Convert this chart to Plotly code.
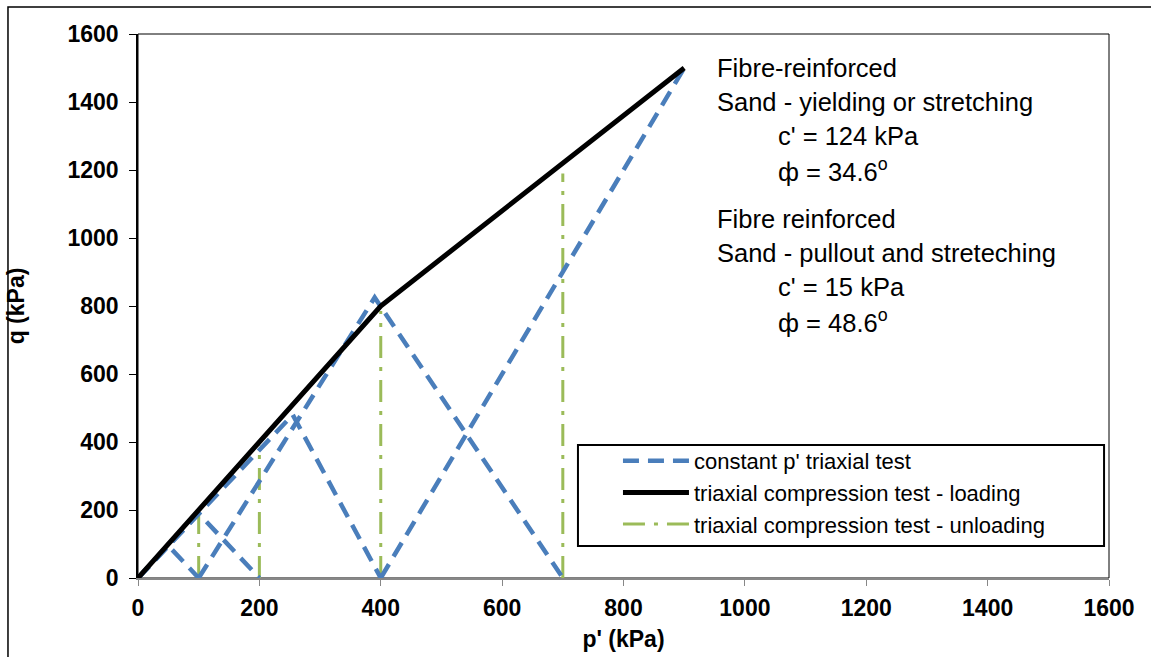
import plotly.graph_objects as go

# ---- data ----
# constant p' triaxial test (blue dashed): each test as p' / q polyline, separated by None
blue_p = [0, 50, 100, None, 0, 100, 200, None, 0, 255, 400, None, 100, 390, 700, None, 400, 900]
blue_q = [0, 95, 0, None, 0, 190, 0, None, 0, 480, 0, None, 0, 825, 0, None, 0, 1500]

# triaxial compression test - loading (black solid)
load_p = [0, 400, 900]
load_q = [0, 800, 1500]

# triaxial compression test - unloading (green dash-dot verticals)
unload_p = [100, 100, None, 200, 200, None, 400, 400, None, 700, 700]
unload_q = [0, 185, None, 0, 390, None, 0, 785, None, 0, 1190]

x_ticks = [0, 200, 400, 600, 800, 1000, 1200, 1400, 1600]
y_ticks = [0, 200, 400, 600, 800, 1000, 1200, 1400, 1600]

names = ["constant p' triaxial test",
         "triaxial compression test - loading",
         "triaxial compression test - unloading"]

note_lines = [
    ("Fibre-reinforced", 0, 1500),
    ("Sand - yielding or stretching", 0, 1400),
    ("c' = 124 kPa", 1, 1300),
    ("ф = 34.6<sup>o</sup>", 1, 1200),
    ("Fibre reinforced", 0, 1057),
    ("Sand - pullout and streteching", 0, 957),
    ("c' = 15 kPa", 1, 857),
    ("ф = 48.6<sup>o</sup>", 1, 757),
]
note_x = [951, 1052]

BLUE = "#4A7EBB"
GREEN = "#9BBB59"
FONT = "Arial, Liberation Sans, sans-serif"

fig = go.Figure()
fig.add_trace(go.Scatter(x=unload_p, y=unload_q, mode="lines", name=names[2],
                         line=dict(color=GREEN, width=3, dash="22px,9px,4px,9px"),
                         legendrank=3, connectgaps=False))
fig.add_trace(go.Scatter(x=blue_p, y=blue_q, mode="lines", name=names[0],
                         line=dict(color=BLUE, width=4.5, dash="16px,9px"),
                         legendrank=1, connectgaps=False))
fig.add_trace(go.Scatter(x=load_p, y=load_q, mode="lines", name=names[1],
                         line=dict(color="black", width=5),
                         legendrank=2))

for txt, ind, q in note_lines:
    fig.add_annotation(x=note_x[ind], y=q, text=txt, showarrow=False,
                       xanchor="left", yanchor="middle",
                       font=dict(family=FONT, size=25.5, color="black"))

# plot-area border (top/right), legend box, outer frame
fig.add_shape(type="rect", xref="paper", yref="paper", x0=0, x1=1, y0=0, y1=1,
              line=dict(color="black", width=1), layer="below")
fig.add_shape(type="rect", xref="paper", yref="paper",
              x0=0.4531, x1=0.9949, y0=0.0588, y1=0.2445,
              line=dict(color="black", width=2), fillcolor="white", layer="above")
fig.add_shape(type="rect", xref="paper", yref="paper",
              x0=-0.1339, x1=1.0464, y0=-0.150, y1=1.0496,
              line=dict(color="black", width=1.5), layer="below")

fig.update_layout(
    width=1151, height=657,
    margin=dict(l=138, r=42, t=34, b=79, autoexpand=False),
    paper_bgcolor="white", plot_bgcolor="white",
    font=dict(family=FONT, color="black"),
    showlegend=True,
    legend=dict(x=0.4943, y=0.2537, xanchor="left", yanchor="top",
                bgcolor="rgba(0,0,0,0)", borderwidth=0,
                font=dict(family=FONT, size=22, color="black"),
                itemwidth=66, tracegroupgap=0),
    xaxis=dict(range=[0, 1600], tickvals=x_ticks, showgrid=False, zeroline=False,
               automargin=False,
               showline=True, linecolor="#878787", linewidth=2,
               ticks="outside", ticklen=6, tickcolor="#878787", tickwidth=1,
               ticklabelstandoff=2,
               tickfont=dict(family=FONT, size=23, color="black", weight="bold"),
               title=dict(text="p' (kPa)", standoff=11,
                          font=dict(family=FONT, size=23, color="black", weight="bold"))),
    yaxis=dict(range=[0, 1600], tickvals=y_ticks, showgrid=False, zeroline=False,
               automargin=False,
               showline=True, linecolor="black", linewidth=1.5,
               ticks="outside", ticklen=7, tickcolor="black", tickwidth=1,
               ticklabelstandoff=6,
               tickfont=dict(family=FONT, size=23, color="black", weight="bold"),
               title=dict(text="q (kPa)", standoff=36,
                          font=dict(family=FONT, size=23, color="black", weight="bold"))),
)

fig.write_html("out.html")
